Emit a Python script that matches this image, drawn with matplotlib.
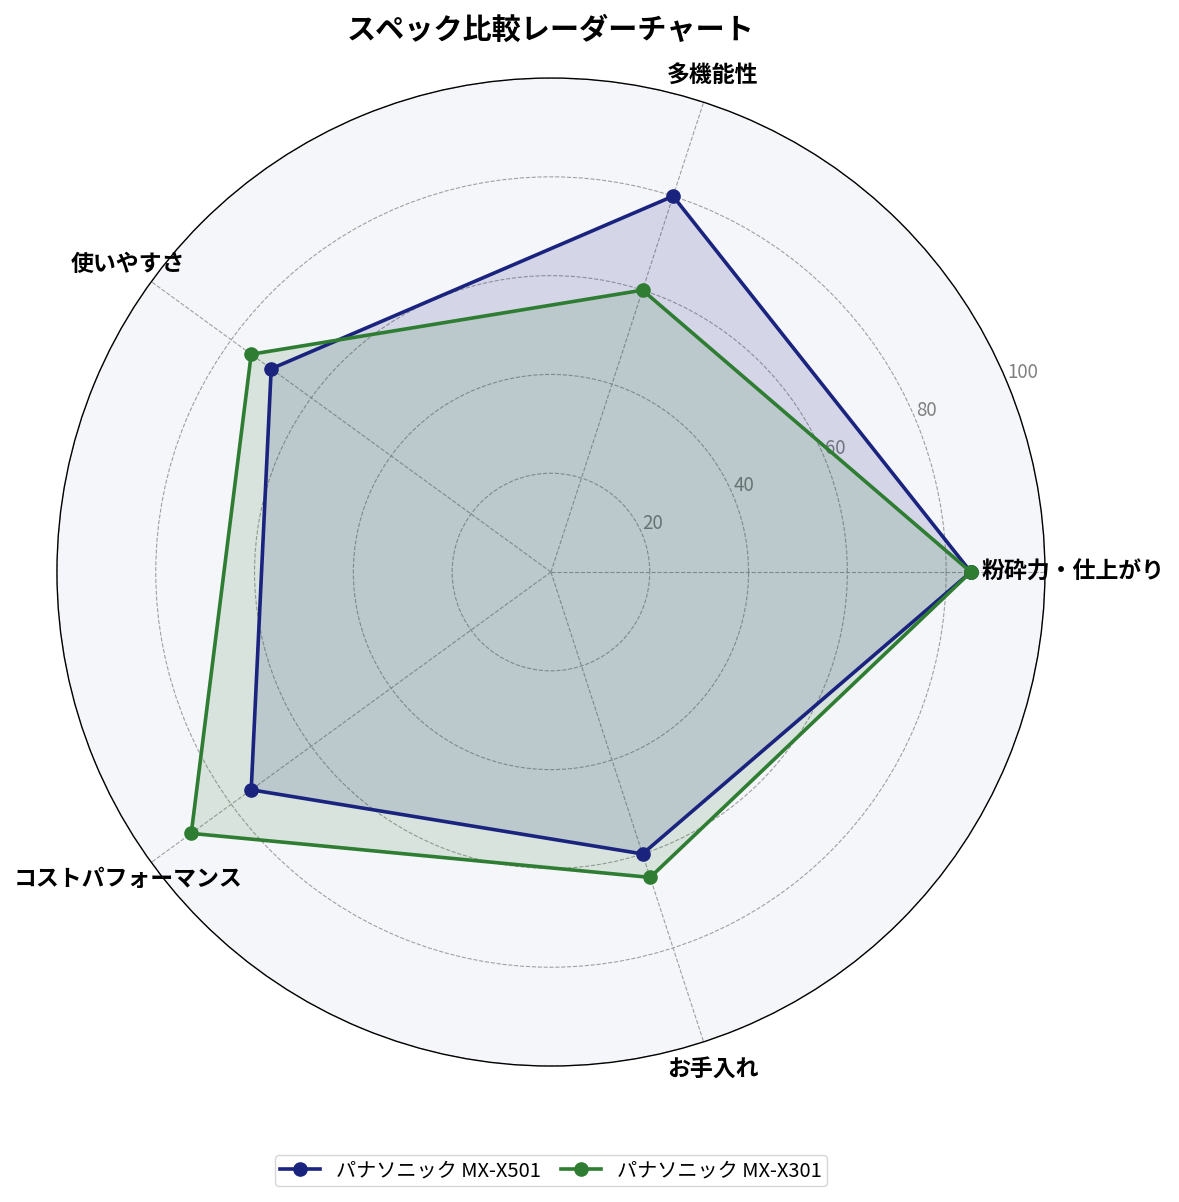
"""Radar chart comparing two Panasonic models."""

import numpy as np
from matplotlib import pyplot as plt

plt.rcParams['font.family'] = ['Noto Sans CJK JP', 'DejaVu Sans']

categories = ['粉砕力・仕上がり', '多機能性', '使いやすさ', 'コストパフォーマンス', 'お手入れ']
models = ['パナソニック MX-X501', 'パナソニック MX-X301']
scores_x501 = [85, 80, 70, 75, 60]
scores_x301 = [85, 60, 75, 90, 65]
r_ticks = [20, 40, 60, 80, 100]

colors = ['#1a237e', '#2e7d32']

angles = np.linspace(0, 2 * np.pi, len(categories), endpoint=False)
angles_closed = np.concatenate([angles, angles[:1]])

fig = plt.figure(figsize=(11.79, 12.02), dpi=100)
ax = fig.add_axes([0.0483, 0.1131, 0.838, 0.822], projection='polar')
ax.set_facecolor('#f5f6fa')

for label, scores, color in zip(models, [scores_x501, scores_x301], colors):
    vals = np.concatenate([scores, scores[:1]])
    ax.plot(angles_closed, vals, color=color, linewidth=2.6, marker='o',
            markersize=9.5, label=label, zorder=3)
    ax.fill(angles_closed, vals, color=color, alpha=0.15, zorder=2)

ax.set_ylim(0, 100)
ax.set_yticks(r_ticks)
ax.set_yticklabels([str(t) for t in r_ticks], color='#808080', fontsize=13.5)
ax.set_rlabel_position(22.5)
ax.set_xticks(angles)
ax.set_xticklabels(categories, fontsize=16.5, fontweight='bold')
ax.tick_params(axis='x', pad=10)
ax.grid(color='#a0a0a0', linestyle='--', linewidth=0.8)
ax.spines['polar'].set_color('black')
ax.spines['polar'].set_linewidth(1.0)

fig.suptitle('スペック比較レーダーチャート', fontsize=21, fontweight='bold',
             x=0.467, y=0.9755, va='center')

ax.legend(loc='center', bbox_to_anchor=(0.5, -0.106), ncol=2,
          fontsize=14.5, frameon=True, handlelength=2.0, columnspacing=1.0,
          borderpad=0.25)

fig.savefig('out.png', dpi=100)
